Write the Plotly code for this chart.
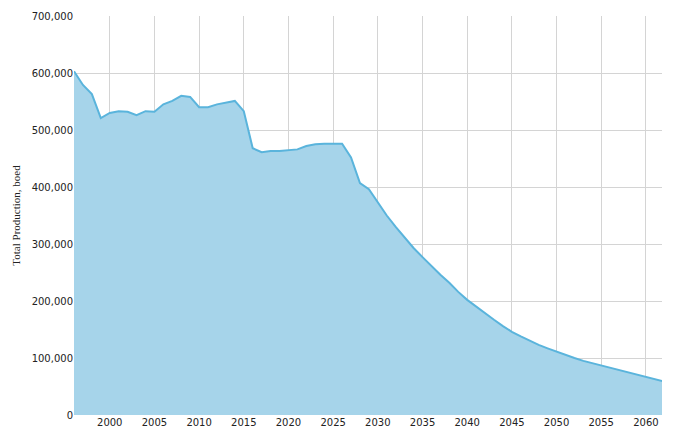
import plotly.graph_objects as go

years = list(range(1996, 2063))
production = [603, 579, 563, 521, 530, 533, 532, 526, 533, 532,
              545, 551, 560, 558, 540, 540, 545, 548, 551, 533,
              468, 461, 463, 463, 464, 466, 472, 475, 476, 476,
              476, 452, 407, 396, 372, 350, 330, 311, 293, 277,
              261, 246, 232, 216, 202, 190, 178, 167, 156, 146,
              138, 130, 123, 117, 111, 105, 100, 95, 91, 87,
              82, 78, 74, 70, 67, 63, 59]
production = [v * 1000 for v in production]

fig = go.Figure(go.Scatter(
    x=years, y=production, mode="lines", fill="tozeroy",
    line=dict(color="#5ab4dc", width=2), fillcolor="#a6d4ea"))

fig.update_layout(
    width=679, height=431, plot_bgcolor="white", paper_bgcolor="white",
    margin=dict(l=66, r=25, t=8, b=24, autoexpand=False), showlegend=False,
    font=dict(family="DejaVu Sans", size=10, color="#222"),
    xaxis=dict(range=[1996, 2061.8], tick0=2000, dtick=5, showgrid=True,
               gridcolor="#d4d4d4", zeroline=False, ticks="", showline=False,
               automargin=False),
    yaxis=dict(range=[0, 700000], dtick=100000, tickformat=",", showgrid=True,
               gridcolor="#d4d4d4", zeroline=False, automargin=False,
               title=dict(text="Total Production, boed",
                          font=dict(family="Liberation Serif", size=11), standoff=8)),
)
fig.write_html("out.html")
